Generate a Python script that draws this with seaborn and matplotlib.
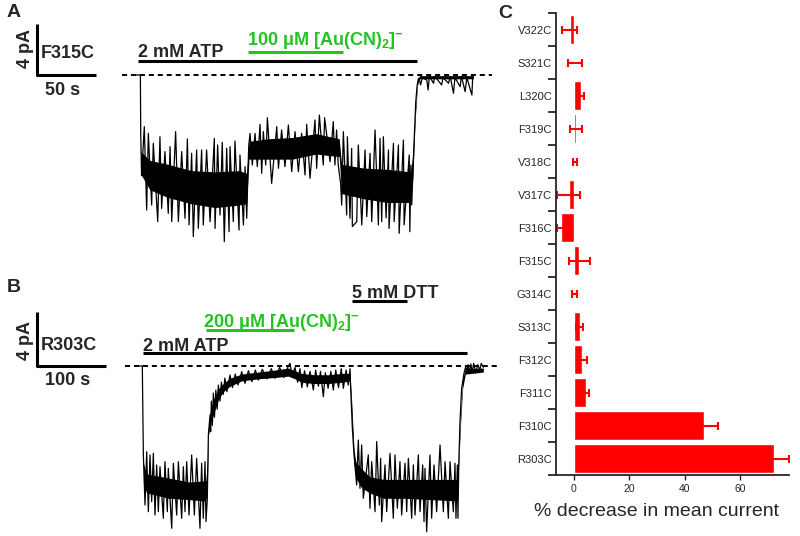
#! /usr/bin/env python3

# libraries
import matplotlib
matplotlib.use("Agg")
import matplotlib.pyplot as plt
import numpy as np
import pandas as pd
import seaborn as sns
from matplotlib.ticker import NullFormatter

sns.set_style("ticks")
plt.rcParams["font.family"] = ["Liberation Sans", "DejaVu Sans"]
plt.rcParams["mathtext.fontset"] = "custom"
plt.rcParams["mathtext.rm"] = "Liberation Sans"
plt.rcParams["mathtext.bf"] = "Liberation Sans:bold"
plt.rcParams["mathtext.default"] = "bf"

GREEN = "#22c322"
RED = "#ff0000"
W, H = 800, 536  # figure size in px (dpi 100)

# ---------------- data: panel C (% decrease in mean current)
mutants = ["V322C", "S321C", "L320C", "F319C", "V318C", "V317C", "F316C",
           "F315C", "G314C", "S313C", "F312C", "F311C", "F310C", "R303C"]
decrease = [-1.5, 0.5, 2.6, 0.8, 0.5, -1.8, -4.7,
            2.0, 0.3, 2.1, 3.1, 4.3, 46.8, 72.0]
decrease_err = [2.8, 2.4, 1.0, 2.1, 0.7, 4.2, 1.4,
                3.8, 0.9, 1.4, 1.7, 1.1, 5.3, 5.5]

# ---------------- data: trace A (F315C), time in s, current in pA
trace_a_t = [-2.5, 2.0, 2.3, 3.0,
             5.3, 7.3, 8.7, 11.5, 12.9, 16.6, 18.5, 19.9, 22.7, 25.5,
             27.0, 28.4, 31.7, 34.0, 36.8, 39.6, 41.6, 43.0, 45.2, 46.6,
             49.4, 50.8, 53.6, 55.0, 57.8, 60.7, 64.3, 64.9, 67.1, 69.1,
             71.0, 72.7, 74.7, 76.7, 77.5, 80.3, 81.7, 85.1, 85.9, 88.8,
             90.2, 91.6,
             92.5, 93.3,
             94.4, 96.3, 98.6, 100.5, 102.8, 104.2, 105.6, 107.6, 109.0, 112.6,
             116.9, 118.3, 121.0, 123.8, 126.7, 129.5, 132.3, 135.1, 137.9, 140.7,
             142.1, 144.9, 149.1, 150.5, 152.8, 156.1, 157.2, 161.8, 164.5, 165.9,
             167.3, 168.7,
             170.7,
             171.6, 173.0, 175.8, 176.4, 178.6, 180.0, 180.6, 184.3, 185.6, 188.5,
             191.3, 192.7, 195.5, 196.9, 199.7, 202.5, 203.9, 205.3, 206.7, 209.0,
             211.0, 211.5, 215.2, 215.8, 219.4, 220.0, 223.6, 224.2, 228.5, 229.0,
             229.9, 230.6,
             231.8, 232.9, 234.0, 235.2, 236.3,
             236.9, 238.1, 239.5, 243.3, 244.4, 245.5, 249.0, 250.0, 255.8, 257.0,
             261.6, 263.0, 265.8, 267.0, 271.4, 272.5, 275.6, 277.0, 281.3, 282.0,
             282.7]
trace_a_i = [0.0, 0.0, -4.5, -7.9,
             -4.05, -10.59, -4.58, -10.20, -5.36, -11.50, -4.84, -10.46, -6.01, -10.85,
             -5.62, -11.50, -4.44, -11.50, -6.01, -11.24, -5.02, -11.76, -6.14, -12.68,
             -5.88, -12.03, -5.88, -11.76, -5.88, -11.50, -4.97, -12.03, -5.49, -10.98,
             -5.28, -13.07, -5.75, -12.29, -5.62, -11.50, -5.18, -12.16, -6.27, -11.76,
             -7.19, -11.24,
             -8.0, -5.5,
             -4.58, -7.06, -4.58, -7.19, -3.87, -7.71, -4.44, -7.06, -3.35, -8.50,
             -4.05, -7.32, -4.31, -7.19, -3.92, -7.58, -4.44, -7.58, -4.58, -7.84,
             -3.87, -8.10, -3.53, -7.32, -3.14, -7.06, -3.35, -6.80, -3.66, -7.06,
             -4.31, -7.06,
             -8.5,
             -10.20, -4.44, -10.98, -4.84, -11.24, -5.75, -11.89, -11.50, -5.49, -11.76,
             -5.88, -11.11, -6.14, -11.50, -4.31, -11.76, -4.97, -11.50, -4.84, -11.20,
             -5.88, -12.03, -5.36, -11.50, -5.49, -12.42, -5.10, -11.76, -6.27, -12.29,
             -7.06, -10.20,
             -7.0, -4.44, -2.09, -0.78, -0.26,
             -0.3, -0.78, -0.2, -0.4, -1.18, -0.1, -0.65, -0.1, -0.78, -0.2,
             -0.65, -0.1, -1.44, -0.2, -0.92, -0.1, -1.31, -0.2, -1.57, -0.1,
             -0.2]
# dense core of the noise band
core_a_t = [2.5, 10, 25, 45, 65, 85, 91.5, 93.5, 110, 130, 150, 169.5, 171.5,
            190, 210, 229.5, 231.5, 233.5, 235.5, 237, 282.5]
core_a_hi = [-6.0, -6.7, -7.0, -7.5, -7.6, -7.5, -7.7, -5.2, -5.0, -4.9, -4.6,
             -5.0, -7.0, -7.3, -7.4, -7.6, -6.3, -2.8, -0.4, -0.05, -0.05]
core_a_lo = [-7.8, -9.0, -9.6, -10.1, -10.4, -10.2, -10.1, -6.6, -6.6, -6.6,
             -6.2, -6.4, -9.3, -9.7, -10.0, -10.0, -8.2, -3.5, -0.8, -0.3, -0.3]
atp_a = [0, 235]      # s
au_a = [93, 173]      # s
scale_a = [50, 4]     # s, pA

# ---------------- data: trace B (R303C)
trace_b_t = [-6.3, 1.9, 3.4,
             5.8, 8.2, 10.6, 13.0, 15.4, 17.8, 20.2, 22.6, 25.0, 27.4,
             32.2, 34.6, 38.0, 39.4, 44.3, 46.7, 51.5, 53.9, 58.7, 61.1,
             63.5, 65.9, 69.3, 73.1, 77.0, 80.3, 85.1, 87.5, 89.9, 92.4,
             93.8,
             95.7, 97.2, 99.6,
             100.5, 101.5, 103.0, 104.4, 106.0, 108.0, 110.0, 111.6, 114.0, 116.0,
             118.8, 121.0, 124.0, 128.4, 132.0, 136.0, 140.0, 145.3, 150.0, 155.0,
             160.0, 165.0, 169.3, 175.0, 182.0, 188.0, 193.4, 200.0, 206.0, 212.6,
             215.0, 218.0, 222.2, 226.0, 229.4, 232.0, 236.0, 240.0, 243.9, 248.7,
             252.0, 256.0, 259.0, 263.1, 266.0, 270.0, 274.0, 277.5, 281.0, 285.0,
             289.0, 292.0, 296.0, 299.0, 301.6,
             302.5, 305.0, 307.4,
             311.2, 313.6, 316.0, 318.4, 320.8, 328.0, 330.4, 332.9, 337.7, 340.1,
             343.9, 345.8, 347.3, 352.1, 354.5, 359.3, 364.1, 366.5, 369.9, 373.7,
             376.1, 381.0, 383.4, 385.8, 390.6, 393.0, 395.4, 400.2, 402.6, 406.5,
             408.4, 409.8, 412.2, 417.0, 419.4, 422.8, 426.6, 431.5, 436.3, 438.7,
             443.5, 445.9, 450.7, 453.1, 454.5, 456.5, 457.4,
             458.5, 460.3, 462.7, 466.1, 468.5,
             470.0, 472.0, 474.0, 476.0, 478.0, 480.0, 483.0, 486.0, 489.0, 491.0,
             494.0]
trace_b_i = [0.0, 0.0, -6.59,
             -10.30, -6.35, -10.79, -6.59, -10.05, -6.47, -11.04, -7.33, -10.79, -7.46,
             -11.28, -7.09, -10.79, -7.58, -12.02, -7.21, -11.04, -7.09, -11.28, -7.46,
             -10.79, -7.09, -11.04, -6.59, -11.04, -6.84, -12.02, -7.21, -11.28, -7.09,
             -11.53,
             -9.8, -5.11, -3.63,
             -4.86, -2.6, -4.4, -2.0, -3.8, -1.78, -3.2, -1.41, -2.6, -1.2,
             -2.1, -0.9, -1.9, -0.67, -1.6, -0.6, -1.41, -0.42, -1.28, -0.35,
             -1.16, -0.3, -1.04, -0.25, -0.95, -0.2, -0.91, -0.1, -0.85, 0.0,
             0.2, -0.8, -0.1, -1.2, -0.2, -1.6, -0.35, -1.55, -0.4, -1.78,
             -0.3, -1.5, -0.4, -2.27, -0.5, -1.65, -0.4, -1.78, -0.3, -1.6,
             -0.2, -1.65, -0.3, -1.41, -0.2,
             -1.65, -4.62, -6.59,
             -8.81, -5.48, -9.06, -5.85, -9.80, -6.59, -10.54, -7.09, -10.79, -5.60,
             -10.30, -6.84, -11.53, -7.33, -10.79, -6.47, -11.28, -6.59, -10.54, -7.09,
             -11.04, -7.2, -10.79, -6.84, -11.28, -7.33, -11.04, -6.59, -10.79, -7.33,
             -11.53, -7.58, -12.27, -6.59, -11.28, -7.33, -10.79, -5.85, -10.79, -7.09,
             -11.28, -7.09, -10.79, -7.21, -11.28, -7.33, -11.28,
             -7.33, -4.12, -1.65, -0.54, -0.05,
             -0.4, 0.1, -0.5, 0.15, -0.45, 0.2, -0.5, 0.1, -0.3, 0.2,
             -0.1]
core_b_t = [3.5, 8, 40, 70, 93.5, 95.5, 97.2, 99.6, 104.4, 111.6,
            118.8, 128.4, 145.3, 169.3, 193.4, 212.6, 222.2, 231.8, 250, 270,
            290, 301.6, 304, 307.4, 310, 318, 330, 350, 380, 420,
            456, 458, 461, 464, 468, 494]
core_b_hi = [-7.2, -8.0, -8.3, -8.6, -8.5, -7.3, -4.6, -3.5, -2.5, -1.7,
             -1.3, -0.9, -0.6, -0.45, -0.3, -0.15, -0.35, -0.55, -0.65, -0.65,
             -0.55, -0.55, -2.6, -6.2, -7.1, -7.6, -8.2, -8.4, -8.4, -8.4,
             -8.4, -7.2, -3.6, -1.0, -0.2, -0.15]
core_b_lo = [-8.6, -9.4, -9.8, -9.9, -10.0, -9.3, -5.2, -4.4, -3.6, -2.5,
             -1.9, -1.5, -1.1, -0.95, -0.85, -0.75, -0.95, -1.2, -1.3, -1.3,
             -1.2, -1.1, -3.9, -7.3, -8.3, -9.0, -9.4, -9.8, -9.8, -9.9,
             -10.0, -7.9, -4.4, -1.7, -0.6, -0.45]
atp_b = [3, 471]
au_b = [94, 221]
dtt_b = [304, 384]
scale_b = [100, 4]

fig = plt.figure(figsize=(W / 100, H / 100), dpi=100)
PW = 540  # px width of the trace panels


def trace_axes(top, bottom, x0, y0, sx, sy):
    # axes whose data units are s / pA, placed by pixel geometry
    ax = fig.add_axes([0, 1 - bottom / H, PW / W, (bottom - top) / H])
    ax.set_xlim(-x0 / sx, (PW - x0) / sx)
    ax.set_ylim((y0 - bottom) / sy, (y0 - top) / sy)
    ax.axis("off")
    return ax


def draw_trace(ax, t, i, ct, chi, clo):
    ax.fill_between(ct, clo, chi, color="k", lw=0)
    sns.lineplot(x=t, y=i, ax=ax, color="k", lw=0.9,
                 estimator=None, sort=False)


def ftext(x, y, s, **kw):
    kw.setdefault("fontweight", "bold")
    kw.setdefault("fontsize", 13)
    fig.text(x / W, 1 - y / H, s, va="baseline", **kw)


# ---------------- panel A
ax_a = trace_axes(0, 262, 138, 75, 1.187, 12.75)
draw_trace(ax_a, trace_a_t, trace_a_i, core_a_t, core_a_hi, core_a_lo)
ax_a.hlines(0, -13.5, 298, color="k", lw=1.4, linestyles=(0, (2.6, 2.0)))
ax_a.hlines(1.1, atp_a[0], atp_a[1], color="k", lw=2.2)
ax_a.hlines(1.83, au_a[0], au_a[1], color=GREEN, lw=2.2)
sb = -85.0
ax_a.plot([sb, sb, sb + scale_a[0]], [scale_a[1], 0, 0], color="k", lw=2.2,
          solid_capstyle="butt")

ftext(7, 17, "A", fontsize=14)
ftext(138, 57, "2 mM ATP")
ftext(247, 45, "100 μM [Au(CN)$_2$]$^{-}$", color=GREEN)
ftext(41, 58, "F315C")
ftext(45, 95, "50 s")
fig.text(25 / W, 1 - 49 / H, "4 pA", rotation=90, ha="center", va="center",
         fontweight="bold", fontsize=13)

# ---------------- panel B
ax_b = trace_axes(270, 536, 141, 366, 0.693, 13.5)
draw_trace(ax_b, trace_b_t, trace_b_i, core_b_t, core_b_hi, core_b_lo)
ax_b.hlines(0, -23, 514, color="k", lw=1.4, linestyles=(0, (2.6, 2.0)))
ax_b.hlines(0.94, atp_b[0], atp_b[1], color="k", lw=2.2)
ax_b.hlines(2.67, au_b[0], au_b[1], color=GREEN, lw=2.2)
ax_b.hlines(4.84, dtt_b[0], dtt_b[1], color="k", lw=2.2)
sb = -150.0
ax_b.plot([sb, sb, sb + scale_b[0]], [scale_b[1], 0, 0], color="k", lw=2.2,
          solid_capstyle="butt")

ftext(7, 292, "B", fontsize=14)
ftext(352, 298, "5 mM DTT")
ftext(203, 327, "200 μM [Au(CN)$_2$]$^{-}$", color=GREEN)
ftext(143, 351, "2 mM ATP")
ftext(41, 350, "R303C")
ftext(45, 385, "100 s")
fig.text(25 / W, 1 - 341 / H, "4 pA", rotation=90, ha="center", va="center",
         fontweight="bold", fontsize=13)

# ---------------- panel C
ax_c = fig.add_axes([556 / W, 1 - 475 / H, 233 / W, 462 / H])
df_c = pd.DataFrame({"mutant": mutants, "decrease": decrease})
sns.barplot(data=df_c, x="decrease", y="mutant", order=mutants, orient="y",
            color=RED, saturation=1, width=0.88, errorbar=None, ax=ax_c)
ypos = np.arange(len(mutants))
ax_c.errorbar(decrease, ypos, xerr=decrease_err, fmt="none", ecolor=RED,
              elinewidth=1.5, capsize=3, capthick=1.5)
ax_c.set_xlim(-6.4, 77.5)
ax_c.set_ylim(len(mutants) - 0.5, -0.5)
ax_c.set_xticks([0, 20, 40, 60])
ax_c.set_yticks(np.arange(len(mutants) + 1) - 0.5)
ax_c.yaxis.set_major_formatter(NullFormatter())
ax_c.set_yticks(ypos, labels=mutants, minor=True)
ax_c.tick_params(axis="y", which="minor", length=0, pad=3, labelsize=8)
ax_c.tick_params(axis="y", which="major", length=6, width=1.3)
ax_c.tick_params(axis="x", length=3.5, width=1, labelsize=7.5, pad=3)
sns.despine(ax=ax_c)
for s in ["left", "bottom"]:
    ax_c.spines[s].set_linewidth(1.3)
ax_c.set_ylabel("")
ax_c.set_xlabel("% decrease in mean current", fontsize=14)
ax_c.xaxis.set_label_coords(0.433, -0.06)
ftext(498, 18, "C", fontsize=14)

plt.savefig("out.png", dpi=100)
